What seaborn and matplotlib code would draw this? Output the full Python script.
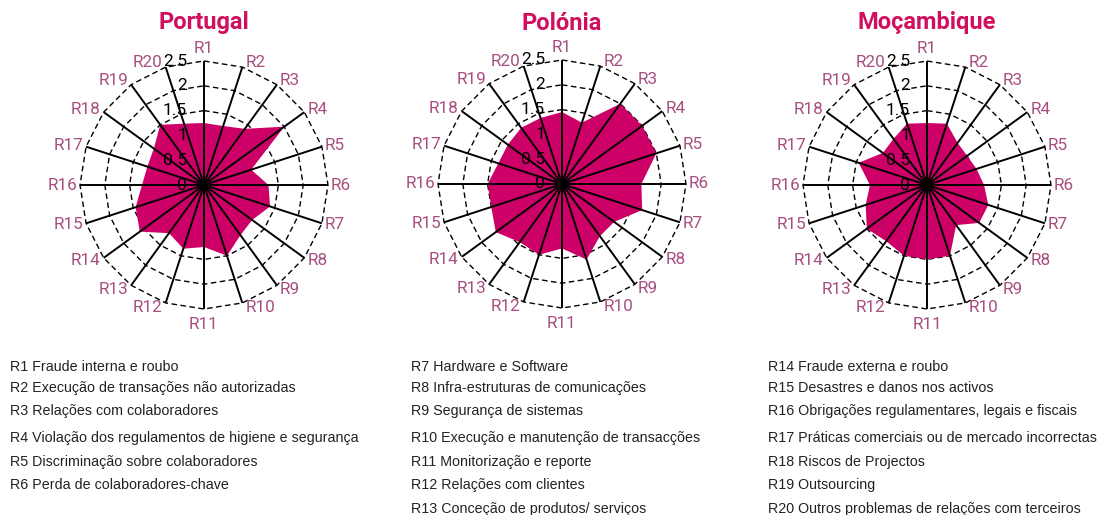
import matplotlib.pyplot as plt
import seaborn as sns
import numpy as np

sns.set_theme(style='white')
plt.rcParams['font.family'] = ['Roboto', 'DejaVu Sans']

# Data
categories = ['R1', 'R2', 'R3', 'R4', 'R5', 'R6', 'R7', 'R8', 'R9', 'R10',
              'R11', 'R12', 'R13', 'R14', 'R15', 'R16', 'R17', 'R18', 'R19', 'R20']
portugal = [1.25, 1.25, 1.4, 2.0, 1.0, 1.3, 1.4, 1.2, 1.25, 1.5,
            1.25, 1.35, 1.2, 1.6, 1.45, 1.25, 1.2, 1.25, 1.5, 1.3]
polonia = [1.45, 1.3, 2.0, 2.0, 2.0, 1.6, 1.7, 1.3, 1.3, 1.6,
           1.3, 1.5, 1.45, 1.65, 1.5, 1.5, 1.35, 1.35, 1.4, 1.4]
mocambique = [1.25, 1.3, 1.05, 1.0, 1.05, 1.15, 1.3, 1.3, 1.0, 1.5,
              1.5, 1.5, 1.4, 1.5, 1.3, 1.15, 1.45, 1.1, 1.15, 1.3]
countries = ['Portugal', 'Polónia', 'Moçambique']
r_ticks = [0, 0.5, 1, 1.5, 2, 2.5]
r_labels = ['0', '0.5', '1', '1.5', '2', '2.5']

legend_cols = [
    ['R1 Fraude interna e roubo',
     'R2 Execução de transações não autorizadas',
     'R3 Relações com colaboradores',
     'R4 Violação dos regulamentos de higiene e segurança',
     'R5 Discriminação sobre colaboradores',
     'R6 Perda de colaboradores-chave'],
    ['R7 Hardware e Software',
     'R8 Infra-estruturas de comunicações',
     'R9 Segurança de sistemas',
     'R10 Execução e manutenção de transacções',
     'R11 Monitorização e reporte',
     'R12 Relações com clientes',
     'R13 Conceção de produtos/ serviços'],
    ['R14 Fraude externa e roubo',
     'R15 Desastres e danos nos activos',
     'R16 Obrigações regulamentares, legais e fiscais',
     'R17 Práticas comerciais ou de mercado incorrectas',
     'R18 Riscos de Projectos',
     'R19 Outsourcing',
     'R20 Outros problemas de relações com terceiros']]

FILL = '#CC0066'
TITLE = '#D0105E'
LABEL = '#A84F80'

W, H = 1107, 515
fig = plt.figure(figsize=(W / 100, H / 100), dpi=100)

centers = [(204, 185), (562, 184), (927, 185)]
R = 124
theta = np.linspace(0, 2 * np.pi, len(categories), endpoint=False)
theta_c = np.append(theta, theta[0])

for (cx, cy), name, vals in zip(centers, countries, [portugal, polonia, mocambique]):
    ax = fig.add_axes([(cx - R) / W, 1 - (cy + R) / H, 2 * R / W, 2 * R / H],
                      projection='polar')
    ax.set_theta_zero_location('N')
    ax.set_theta_direction(-1)
    ax.set_ylim(0, 2.5)
    ax.grid(False)
    ax.spines['polar'].set_visible(False)
    ax.set_facecolor('none')
    ax.set_xticks([])
    ax.set_yticks([])

    # dashed polygon rings
    for r in r_ticks[1:]:
        ax.plot(theta_c, [r] * len(theta_c), color='black', lw=1.0,
                ls=(0, (4, 2.5)), zorder=1, clip_on=False)

    v = np.append(vals, vals[0])
    ax.fill(theta_c, v, color=FILL, lw=0, zorder=2)

    # spokes
    for t in theta:
        ax.plot([t, t], [0, 2.5], color='black', lw=1.4, zorder=3,
                clip_on=False, solid_capstyle='butt')

    # category labels, Excel-like placement next to the spoke ends
    for t, lab in zip(theta, categories):
        sx, cyy = np.sin(t), np.cos(t)
        if abs(sx) < 0.1:
            ha = 'center'
            va = 'bottom' if cyy > 0 else 'top'
            off = (0, 5 if cyy > 0 else -8)
        else:
            ha = 'left' if sx > 0 else 'right'
            va = 'center'
            off = (3 * np.sign(sx), 5 * cyy)
        ax.annotate(lab, xy=(t, 2.5), xytext=off, textcoords='offset pixels',
                    ha=ha, va=va, fontsize=12.3, color=LABEL, annotation_clip=False)

    for r, lab in zip(r_ticks, r_labels):
        ax.annotate(lab, xy=(0, r), xytext=(-17, 0), textcoords='offset pixels',
                    ha='right', va='center', fontsize=12.5, color='black', zorder=4)

    fig.text(cx / W, 1 - 23 / H, name, ha='center', va='center',
             fontsize=17, fontweight='bold', color=TITLE)

col_x = [10, 411, 768]
row_y = [367, 388, 411, 438, 462, 485, 509]
for x, lines in zip(col_x, legend_cols):
    for y, txt in zip(row_y, lines):
        fig.text(x / W, 1 - y / H, txt, ha='left', va='center',
                 fontsize=10.3, color='#222222', family=['Liberation Sans', 'DejaVu Sans'])

fig.savefig('out.png', dpi=100)
